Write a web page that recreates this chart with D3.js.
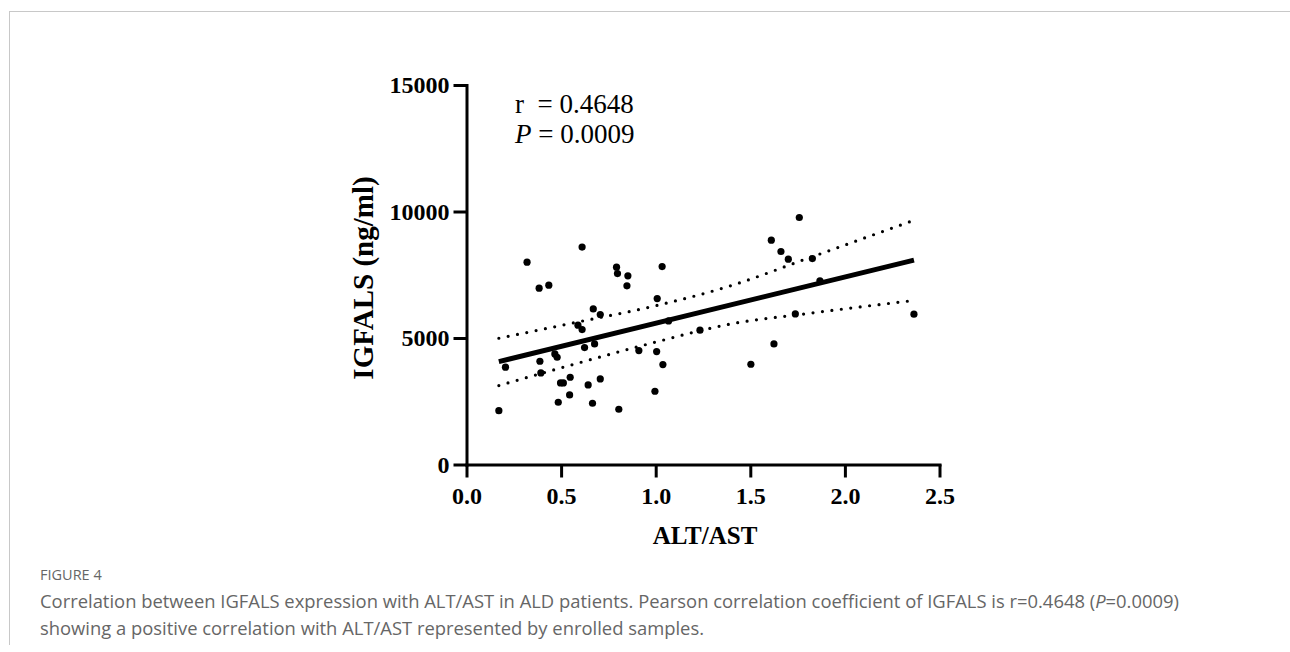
<!DOCTYPE html>
<html>
<head>
<meta charset="utf-8">
<script src="https://cdn.jsdelivr.net/npm/d3@7"></script>
<style>
  html, body { margin: 0; padding: 0; background: #fff; }
  svg { display: block; }
</style>
</head>
<body>
<svg id="chart" width="1290" height="652"></svg>
<script>
// values
const altAst = [0.611, 0.320, 0.384, 0.435, 0.793, 0.798, 0.853, 0.848, 1.034, 1.008,
                0.670, 0.707, 0.589, 0.611, 0.624, 0.677, 0.911, 1.005, 1.038, 1.068,
                0.467, 0.479, 0.388, 0.393, 0.206, 0.497, 0.512, 0.548, 0.643, 0.707,
                0.485, 0.545, 0.666, 0.805, 0.996, 0.171,
                1.759, 1.611, 1.662, 1.701, 1.828, 1.868, 1.738, 2.365, 1.234, 1.625, 1.503];
const igfals = [8592, 7998, 6970, 7088, 7800, 7548, 7456, 7061, 7825, 6559,
                6151, 5926, 5506, 5333, 4620, 4767, 4502, 4462, 3948, 5676,
                4371, 4240, 4082, 3619, 3845, 3224, 3224, 3449, 3145, 3382,
                2460, 2749, 2420, 2183, 2895, 2128,
                9763, 8868, 8418, 8117, 8141, 7259, 5953, 5941, 5308, 4767, 3963];

// fitted line end points and 95% band, as drawn
const fitX = [0.171, 2.365];
const fitY = [4067, 8078];
const bandX = [0.171, 0.6, 1.0, 1.4, 1.8, 2.36];
const bandUpper = [4990, 5650, 6275, 7075, 8140, 9640];
const bandLower = [3120, 4030, 4840, 5560, 5965, 6480];

const xTicks = [0, 0.5, 1.0, 1.5, 2.0, 2.5];
const yTicks = [0, 5000, 10000, 15000];

const svg = d3.select("#chart");

// figure frame
svg.append("line").attr("x1", 9).attr("x2", 1290).attr("y1", 11.5).attr("y2", 11.5)
   .attr("stroke", "#c8c8c8").attr("stroke-width", 1);
svg.append("line").attr("x1", 9.5).attr("x2", 9.5).attr("y1", 11).attr("y2", 645)
   .attr("stroke", "#c8c8c8").attr("stroke-width", 1);

const x = d3.scaleLinear().domain([0, 2.5]).range([466.5, 939.5]);
const y = d3.scaleLinear().domain([0, 15000]).range([464.5, 85]);

const serif = "'Liberation Serif', 'Times New Roman', serif";

// axes
const yAxis = svg.append("g").attr("transform", "translate(466.5,0)")
    .call(d3.axisLeft(y).tickValues(yTicks).tickSize(13).tickSizeOuter(0).tickPadding(4)
        .tickFormat(d3.format("d")));
const xAxis = svg.append("g").attr("transform", "translate(0,464.5)")
    .call(d3.axisBottom(x).tickValues(xTicks).tickSize(13).tickSizeOuter(0).tickPadding(9)
        .tickFormat(d3.format(".1f")));

[xAxis, yAxis].forEach(g => {
    g.select(".domain").attr("stroke", "#000").attr("stroke-width", 3).attr("stroke-linecap", "square");
    g.selectAll(".tick line").attr("stroke", "#000").attr("stroke-width", 3);
    g.selectAll(".tick text").attr("fill", "#000")
        .style("font-family", serif).style("font-weight", "bold").style("font-size", "24px");
});

// axis titles
svg.append("text")
    .attr("x", 705).attr("y", 544)
    .attr("text-anchor", "middle")
    .style("font-family", serif).style("font-weight", "bold").style("font-size", "25px")
    .text("ALT/AST");

svg.append("text")
    .attr("transform", "translate(373,278) rotate(-90)")
    .attr("text-anchor", "middle")
    .style("font-family", serif).style("font-weight", "bold").style("font-size", "29px")
    .text("IGFALS (ng/ml)");

// confidence band (dotted)
const band = (vals) => d3.line()
    .x((d, i) => x(bandX[i]))
    .y(d => y(d))
    .curve(d3.curveMonotoneX)(vals);

[bandUpper, bandLower].forEach(vals => {
    svg.append("path")
        .attr("d", band(vals))
        .attr("fill", "none")
        .attr("stroke", "#000")
        .attr("stroke-width", 3.2)
        .attr("stroke-linecap", "round")
        .attr("stroke-dasharray", "0 9.5");
});

// regression line
svg.append("line")
    .attr("x1", x(fitX[0])).attr("y1", y(fitY[0]))
    .attr("x2", x(fitX[1])).attr("y2", y(fitY[1]))
    .attr("stroke", "#000").attr("stroke-width", 5);

// points
svg.append("g").selectAll("circle")
    .data(altAst)
    .join("circle")
    .attr("cx", d => x(d))
    .attr("cy", (d, i) => y(igfals[i]))
    .attr("r", 3.6)
    .attr("fill", "#000");

// stats annotation
const note = svg.append("g").style("font-family", serif).style("font-size", "27px");
note.append("text").attr("x", 515).attr("y", 113).attr("xml:space", "preserve").text("r  = 0.4648");
const pLine = note.append("text").attr("x", 515).attr("y", 143);
pLine.append("tspan").style("font-style", "italic").text("P");
pLine.append("tspan").text(" = 0.0009");

// caption
const sans = "'Open Sans', 'Noto Sans', sans-serif";
svg.append("text")
    .attr("x", 40).attr("y", 580)
    .style("font-family", sans).style("font-size", "14.5px").attr("fill", "#666")
    .text("FIGURE 4");
const cap = svg.append("text")
    .style("font-family", sans).style("font-size", "18.4px").attr("fill", "#666");
cap.append("tspan").attr("x", 40).attr("y", 608)
    .text("Correlation between IGFALS expression with ALT/AST in ALD patients. Pearson correlation coefficient of IGFALS is r=0.4648 (");
cap.append("tspan").style("font-style", "italic").text("P");
cap.append("tspan").text("=0.0009)");
cap.append("tspan").attr("x", 40).attr("y", 635)
    .text("showing a positive correlation with ALT/AST represented by enrolled samples.");
</script>
</body>
</html>
